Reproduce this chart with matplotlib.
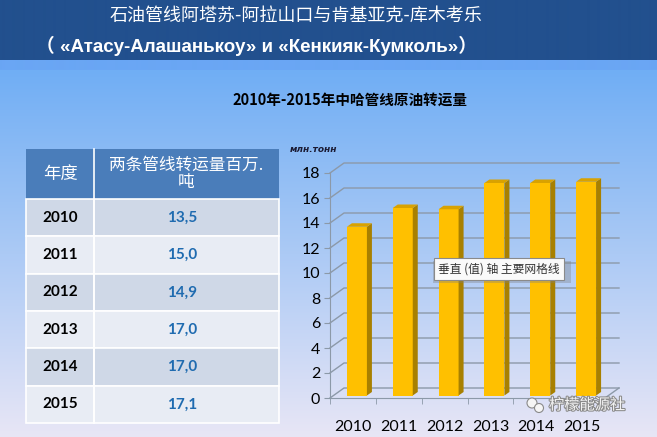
import numpy as np
import matplotlib.pyplot as plt
import matplotlib.patheffects as pe
from matplotlib.colors import to_rgb

years = ['2010', '2011', '2012', '2013', '2014', '2015']
volumes = [13.5, 15.0, 14.9, 17.0, 17.0, 17.1]
value_labels = ['13,5', '15,0', '14,9', '17,0', '17,0', '17,1']
title_cn = '石油管线阿塔苏-阿拉山口与肯基亚克-库木考乐'
title_ru = '（ «Атасу-Алашанькоу» и «Кенкияк-Кумколь»）'
chart_title = '2010年-2015年中哈管线原油转运量'
col_headers = ['年度', '两条管线转运量百万.\n吨']
unit_label = 'млн.тонн'
tooltip = '垂直 (值) 轴 主要网格线'
watermark = '柠檬能源社'

W, H = 657, 437
fig = plt.figure(figsize=(W / 100, H / 100), dpi=100)

# background: title band + gradient
bg = fig.add_axes([0, 0, 1, 1], zorder=0)
bg.set_xlim(0, W)
bg.set_ylim(H, 0)
bg.axis('off')
rows = np.zeros((H, 1, 3))
c_top, c_bot = np.array(to_rgb('#70AEF4')), np.array(to_rgb('#E8E6F6'))
for r in range(H):
    if r < 60:
        rows[r, 0] = to_rgb('#22508E')
    elif r < 70:
        rows[r, 0] = to_rgb('#6AA6F4')
    else:
        t = (r - 70) / (H - 70)
        rows[r, 0] = c_top * (1 - t) + c_bot * t
bg.imshow(rows, extent=(0, W, H, 0), aspect='auto', interpolation='bilinear')

cjk = ['Noto Sans CJK SC', 'DejaVu Sans']
bg.text(296, 16, title_cn, color='white', fontsize=13, family=cjk,
        ha='center', va='center')
bg.text(257, 46, title_ru, color='white', fontsize=13.5, fontweight='bold',
        family=['Liberation Sans', 'Noto Sans CJK SC'], ha='center', va='center')
bg.text(350, 100, chart_title, color='black', fontsize=10.5, fontweight='bold',
        family=cjk, ha='center', va='center')

# table
x0, x1, x2 = 26, 94, 279
ytop, yhead = 149, 199
rh = (423 - yhead) / len(years)
bg.add_patch(plt.Rectangle((x0, ytop), x2 - x0, yhead - ytop, color='#4A7DBA', lw=0))
bg.plot([x1, x1], [ytop, 423], color='white', lw=1.2)
bg.text((x0 + x1) / 2, (ytop + yhead) / 2, col_headers[0], color='white',
        fontsize=12.5, family=cjk, ha='center', va='center')
bg.text((x1 + x2) / 2, (ytop + yhead) / 2, col_headers[1], color='white',
        fontsize=12, family=cjk, ha='center', va='center', linespacing=1.05)
for i, (yr, lab) in enumerate(zip(years, value_labels)):
    y = yhead + i * rh
    fc = '#CFD8E7' if i % 2 == 0 else '#E8ECF4'
    bg.add_patch(plt.Rectangle((x0, y), x1 - x0, rh, fc=fc, ec='white', lw=1.2))
    bg.add_patch(plt.Rectangle((x1, y), x2 - x1, rh, fc=fc, ec='white', lw=1.2))
    bg.text((x0 + x1) / 2, y + rh / 2, yr, fontsize=11, fontweight='bold',
            family='Lato', color='black', ha='center', va='center')
    bg.text(182, y + rh / 2, lab, fontsize=11, fontweight='bold',
            family='Lato', color='#1F6BB0', ha='center', va='center')

bg.text(290, 150, unit_label, fontsize=6.5, fontweight='bold', style='italic',
        color='#1A1A33', ha='left', va='center')

# 3D-style bar chart
ax = fig.add_axes([330 / W, (H - 398) / H, 275 / W, 225 / H], zorder=2)
ax.set_xlim(-0.5, 5.5)
ax.set_ylim(0, 18)
ax.patch.set_alpha(0)
pxx, pxy = 275 / 6, 225 / 18
ddx, ddy = 14 / pxx, 10 / pxy
grid_c = '#8C99A8'
for yv in range(0, 19, 2):
    ax.plot([-0.5, -0.5 + ddx, 5.5 + ddx], [yv, yv + ddy, yv + ddy],
            color=grid_c, lw=1, clip_on=False, zorder=1)
ax.plot([5.5, 5.5 + ddx], [0, ddy], color=grid_c, lw=1, clip_on=False, zorder=1)

xs = np.arange(len(years))
off, w = 4 / pxx, 20 / pxx
b0 = 2.5 / pxy
sdx, sdy = 5 / pxx, 3.5 / pxy
ax.bar(xs + off, volumes, width=w, bottom=b0, color='#FFC000', zorder=3)
for x, v in zip(xs, volumes):
    xl, xr = x + off - w / 2, x + off + w / 2
    ax.fill([xr, xr + sdx, xr + sdx, xr], [b0, b0 + sdy, v + b0 + sdy, v + b0],
            color='#A88000', lw=0, zorder=3, clip_on=False)
    ax.fill([xl, xl + sdx, xr + sdx, xr], [v + b0, v + b0 + sdy, v + b0 + sdy, v + b0],
            color='#D9A200', lw=0, zorder=3, clip_on=False)

for s in ['top', 'right']:
    ax.spines[s].set_visible(False)
for s in ['left', 'bottom']:
    ax.spines[s].set_color(grid_c)
ax.set_yticks(range(0, 19, 2))
ax.set_xticks(xs)
ax.set_xticklabels(years)
ax.set_xticks(np.arange(-0.5, 6, 1), minor=True)
ax.tick_params(axis='x', which='major', length=0, pad=16, labelsize=11.5)
ax.tick_params(axis='x', which='minor', length=4, color=grid_c)
ax.tick_params(axis='y', length=4, color=grid_c, labelsize=11.5, pad=3)
for lbl in ax.get_xticklabels() + ax.get_yticklabels():
    lbl.set_family('Lato')

# overlay: tooltip and watermark
top = fig.add_axes([0, 0, 1, 1], zorder=5)
top.set_xlim(0, W)
top.set_ylim(H, 0)
top.axis('off')
top.add_patch(plt.Rectangle((433, 261), 138, 22, color='#808080', alpha=0.35, lw=0))
top.text(499, 269, tooltip, fontsize=8.5, family=cjk, color='#333333',
         ha='center', va='center',
         bbox=dict(boxstyle='square,pad=0.35', fc='#FAFAFA', ec='#8A8A8A', lw=0.8))
top.text(587, 405, watermark, fontsize=11, family=cjk, color='#F2F2F2',
         ha='center', va='center',
         path_effects=[pe.withStroke(linewidth=1.5, foreground='#8A8A8A')])
for cx, cy, r in [(532, 403, 5), (539, 408, 4.5)]:
    top.add_patch(plt.Circle((cx, cy), r, fc='#F5F5F5', ec='#8A8A8A', lw=0.8))

fig.savefig('out.png', dpi=100)
